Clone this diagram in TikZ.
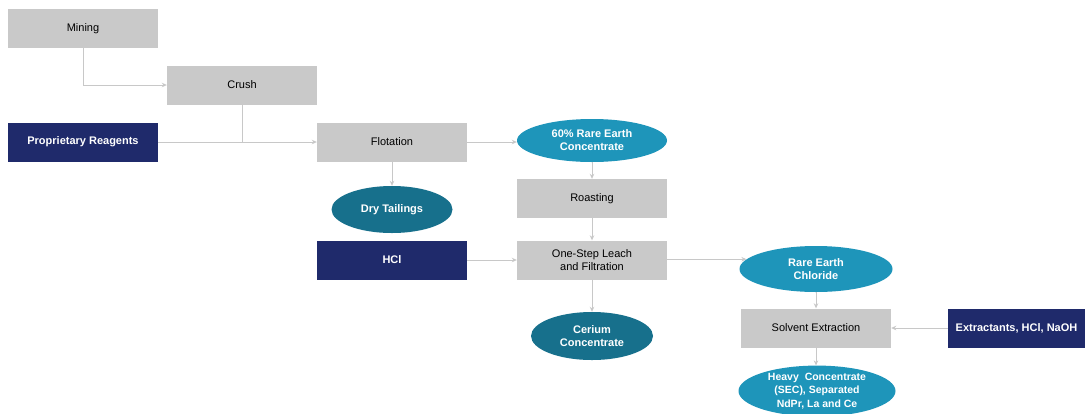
\documentclass[tikz,border=0pt]{standalone}
\usepackage{fontspec}
\setmainfont{Liberation Sans}
\usetikzlibrary{shapes.geometric,arrows.meta}
\definecolor{boxgray}{HTML}{C9C9C9}
\definecolor{navy}{HTML}{1F2A6B}
\definecolor{teallight}{HTML}{1E95BA}
\definecolor{tealdark}{HTML}{17708C}
\definecolor{linegray}{HTML}{C8C8C8}
\tikzset{
  procbox/.style={rectangle, fill=boxgray, minimum width=150pt, minimum height=39pt, inner sep=1pt, align=center, font=\fontsize{11}{13}\selectfont, text=black},
  inbox/.style={rectangle, fill=navy, minimum width=150pt, minimum height=39pt, inner sep=1pt, align=center, font=\bfseries\fontsize{11}{13}\selectfont, text=white},
  prodlight/.style={ellipse, fill=teallight, inner sep=0pt, align=center, font=\bfseries\fontsize{11}{13}\selectfont, text=white},
  proddark/.style={ellipse, fill=tealdark, inner sep=0pt, align=center, font=\bfseries\fontsize{11}{13}\selectfont, text=white},
  conn/.style={draw=linegray, line width=0.9pt},
  arr/.style={conn, -{Stealth[length=5pt,width=4.5pt]}}
}
\begin{document}
\begin{tikzpicture}[x=1pt,y=-1pt]
\useasboundingbox (0,0) rectangle (1089,413);
\fill[white] (0,0) rectangle (1089,413);
% nodes
\node[procbox] (mining) at (83,28.5) {Mining};
\node[procbox] (crush) at (242,85) {Crush};
\node[inbox] (prop) at (83,142) {Proprietary Reagents};
\node[procbox] (flot) at (392,142) {Flotation};
\node[prodlight, minimum width=150pt, minimum height=43pt] (conc) at (592,140.5) {60\% Rare Earth\\Concentrate};
\node[proddark, minimum width=121pt, minimum height=47pt] (dry) at (392,209.5) {Dry Tailings};
\node[procbox] (roast) at (592,198.5) {Roasting};
\node[inbox] (hcl) at (392,260) {HCl};
\node[procbox] (leach) at (592,260) {One-Step Leach\\and Filtration};
\node[prodlight, minimum width=153pt, minimum height=46pt] (rec) at (816,269) {Rare Earth\\Chloride};
\node[proddark, minimum width=122pt, minimum height=48pt] (cer) at (592,336) {Cerium\\Concentrate};
\node[procbox] (solv) at (816,328) {Solvent Extraction};
\node[inbox, minimum width=137pt] (extr) at (1016.5,328) {Extractants, HCl, NaOH};
\node[prodlight, minimum width=157pt, minimum height=47pt, font=\bfseries\fontsize{10.5}{13.5}\selectfont] (heavy) at (817,391) {Heavy\ \ Concentrate\\(SEC), Separated\\NdPr, La and Ce};
% connectors
\coordinate (j1) at (crush.south |- prop.east);
\draw[arr] (mining.south) |- (crush.west);
\draw[conn] (crush.south) -- (j1);
\draw[arr] (prop.east) -- (flot.west);
\draw[arr] (flot.east) -- (flot.east -| conc.west);
\draw[arr] (flot.south) -- (dry.north);
\draw[arr] (conc.south) -- (roast.north);
\draw[arr] (roast.south) -- (leach.north);
\draw[arr] (hcl.east) -- (leach.west);
\draw[arr] (leach.east |- rec.172) -- (rec.172);
\draw[arr] (leach.south) -- (cer.north);
\draw[arr] (rec.south) -- (solv.north);
\draw[arr] (extr.west) -- (solv.east);
\draw[arr] (solv.south) -- (solv.south |- heavy.north);
\end{tikzpicture}
\end{document}
